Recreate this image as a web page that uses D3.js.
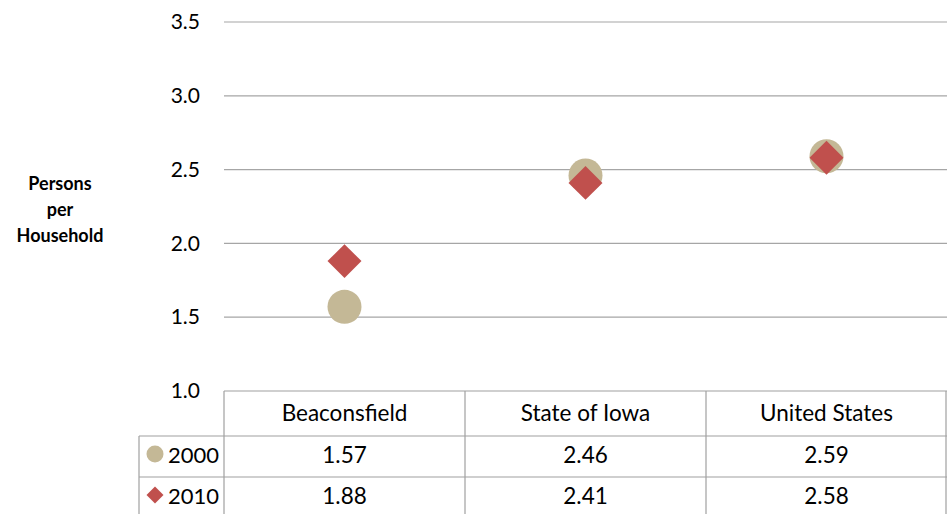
<!DOCTYPE html>
<html><head><meta charset="utf-8">
<script src="https://cdn.jsdelivr.net/npm/d3@7"></script>
<style>body{margin:0;background:#fff}svg{display:block}</style>
</head><body>
<script>
const categories = ["Beaconsfield", "State of Iowa", "United States"];
const seriesNames = ["2000", "2010"];
const values2000 = [1.57, 2.46, 2.59];
const values2010 = [1.88, 2.41, 2.58];
const yTicks = [1.0, 1.5, 2.0, 2.5, 3.0, 3.5];

(function () {
const W = 948, H = 514;
const font = "Lato, 'Open Sans', sans-serif";
const svg = d3.select("body").append("svg").attr("width", W).attr("height", H);

const pLeft = 224, pRight = 947, pTop = 22, pBottom = 391;
const x = d3.scaleBand().domain(categories).range([pLeft, pRight]);
const y = d3.scaleLinear().domain([1.0, 3.5]).range([pBottom, pTop]);

// gridlines
svg.append("g").selectAll("line").data(yTicks.filter(d => d > 1)).join("line")
  .attr("x1", pLeft).attr("x2", pRight)
  .attr("y1", d => y(d)).attr("y2", d => y(d))
  .attr("stroke", "#a6a6a6").attr("stroke-width", 1.2);

// y axis labels
const yAxis = d3.axisLeft(y).tickValues(yTicks).tickFormat(d3.format(".1f")).tickSize(0).tickPadding(0);
const gy = svg.append("g").attr("transform", `translate(${pLeft - 24},0)`).call(yAxis);
gy.select(".domain").remove();
gy.selectAll("text").attr("font-family", font).attr("font-size", 21).attr("fill", "#000");

// y title
const t = svg.append("text").attr("font-family", font).attr("font-weight", "bold")
  .attr("font-size", 18).attr("text-anchor", "middle").attr("fill", "#000");
["Persons", "per", "Household"].forEach((s, i) =>
  t.append("tspan").attr("x", 60).attr("y", 190 + i * 26).text(s));

// table
const rowTop = pBottom, row1 = 436, row2 = 477, rowBot = 518;
const tableLeft = 139;
const g = svg.append("g").attr("stroke", "#a0a0a0").attr("stroke-width", 1.2);
g.append("line").attr("x1", pLeft).attr("x2", pRight).attr("y1", rowTop).attr("y2", rowTop);
[row1, row2].forEach(r => g.append("line").attr("x1", tableLeft).attr("x2", pRight).attr("y1", r).attr("y2", r));
g.append("line").attr("x1", tableLeft).attr("x2", tableLeft).attr("y1", row1).attr("y2", rowBot);
categories.forEach(c => g.append("line").attr("x1", x(c)).attr("x2", x(c)).attr("y1", rowTop).attr("y2", rowBot));
g.append("line").attr("x1", pRight - 1).attr("x2", pRight - 1).attr("y1", rowTop).attr("y2", rowBot);

svg.append("g").selectAll("text").data(categories).join("text")
  .attr("x", d => x(d) + x.bandwidth() / 2).attr("y", 421)
  .attr("text-anchor", "middle").attr("font-family", font).attr("font-size", 22.5).text(d => d);

const fmt = d3.format(".2f");
[values2000, values2010].forEach((vals, i) => {
  const yy = i === 0 ? 463 : 504;
  svg.append("g").selectAll("text").data(vals).join("text")
    .attr("x", (d, j) => x(categories[j]) + x.bandwidth() / 2).attr("y", yy)
    .attr("text-anchor", "middle").attr("font-family", font).attr("font-size", 22.5).text(d => fmt(d));
  svg.append("text").attr("x", 168).attr("y", yy).attr("font-family", font).attr("font-size", 22).text(seriesNames[i]);
});

const tan = "#c4b896", red = "#c0504d";
// legend markers
svg.append("circle").attr("cx", 155).attr("cy", 454).attr("r", 8.5).attr("fill", tan);
svg.append("path").attr("d", d3.symbol(d3.symbolSquare, 12 * 12)()).attr("transform", "translate(155,495) rotate(45)").attr("fill", red);

// markers
const cx = c => x(c) + x.bandwidth() / 2;
svg.append("g").selectAll("circle").data(values2000).join("circle")
  .attr("cx", (d, i) => cx(categories[i])).attr("cy", d => y(d)).attr("r", 17).attr("fill", tan);
const dia = d3.symbol(d3.symbolSquare, 24 * 24)();
svg.append("g").selectAll("path").data(values2010).join("path")
  .attr("d", dia)
  .attr("transform", (d, i) => `translate(${cx(categories[i])},${y(d)}) rotate(45)`)
  .attr("fill", red);
})();
</script>
</body></html>
